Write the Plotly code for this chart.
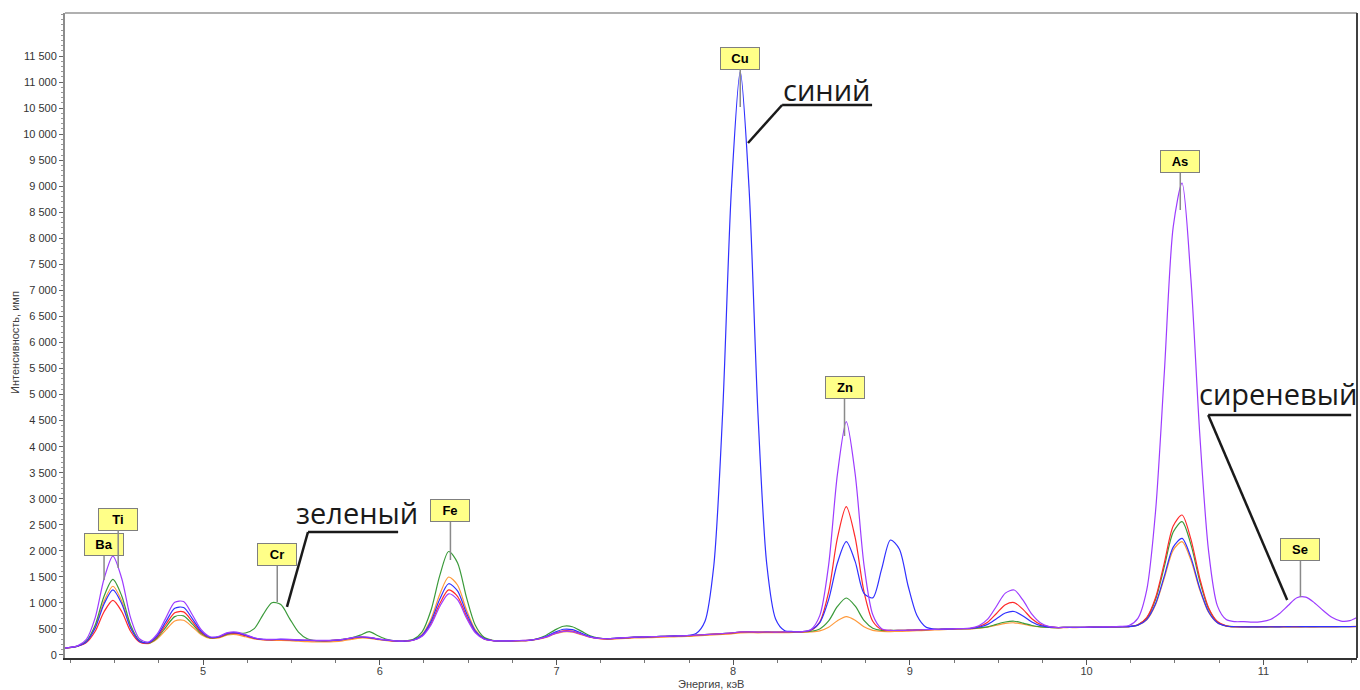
import plotly.graph_objects as go

# ---------------- data ----------------
energy = [
    4.19, 4.24, 4.29, 4.34, 4.39, 4.44, 4.49, 4.54, 4.59, 4.64,
    4.69, 4.74, 4.79, 4.84, 4.89, 4.94, 4.99, 5.04, 5.09, 5.14,
    5.19, 5.24, 5.29, 5.34, 5.39, 5.44, 5.49, 5.54, 5.59, 5.64,
    5.69, 5.74, 5.79, 5.84, 5.89, 5.94, 5.99, 6.04, 6.09, 6.14,
    6.19, 6.24, 6.29, 6.34, 6.39, 6.44, 6.49, 6.54, 6.59, 6.64,
    6.69, 6.74, 6.79, 6.84, 6.89, 6.94, 6.99, 7.04, 7.09, 7.14,
    7.19, 7.24, 7.29, 7.34, 7.39, 7.44, 7.49, 7.54, 7.59, 7.64,
    7.69, 7.74, 7.79, 7.84, 7.89, 7.94, 7.99, 8.04, 8.09, 8.14,
    8.19, 8.24, 8.29, 8.34, 8.39, 8.44, 8.49, 8.54, 8.59, 8.64,
    8.69, 8.74, 8.79, 8.84, 8.89, 8.94, 8.99, 9.04, 9.09, 9.14,
    9.19, 9.24, 9.29, 9.34, 9.39, 9.44, 9.49, 9.54, 9.59, 9.64,
    9.69, 9.74, 9.79, 9.84, 9.89, 9.94, 9.99, 10.04, 10.09, 10.14,
    10.19, 10.24, 10.29, 10.34, 10.39, 10.44, 10.49, 10.54, 10.59, 10.64,
    10.69, 10.74, 10.79, 10.84, 10.89, 10.94, 10.99, 11.04, 11.09, 11.14,
    11.19, 11.24, 11.29, 11.34, 11.39, 11.44, 11.49, 11.54,
]

purple = [
    130, 142, 175, 298, 716, 1464, 1900, 1469, 716, 312,
    249, 399, 713, 1011, 1026, 768, 484, 350, 360, 430,
    440, 390, 330, 300, 300, 305, 300, 290, 285, 280,
    280, 285, 300, 330, 350, 340, 310, 290, 272, 268,
    283, 359, 578, 932, 1175, 1061, 716, 430, 307, 275,
    272, 270, 278, 282, 302, 342, 409, 455, 449, 397,
    343, 318, 312, 322, 333, 342, 348, 352, 356, 362,
    366, 372, 382, 392, 402, 412, 425, 442, 445, 440,
    442, 440, 442, 446, 447, 490, 756, 1726, 3473, 4480,
    3483, 1736, 771, 505, 472, 472, 476, 482, 486, 492,
    497, 502, 507, 515, 561, 688, 936, 1188, 1247, 1052,
    783, 613, 545, 528, 532, 532, 533, 537, 538, 540,
    548, 566, 703, 1244, 2754, 5439, 8219, 9060, 7224, 4255,
    1999, 943, 680, 640, 640, 630, 640, 680, 790, 950,
    1100, 1110, 1000, 850, 720, 650, 660, 740,
]

blue = [
    128, 140, 169, 252, 517, 980, 1250, 985, 517, 265,
    235, 369, 640, 897, 912, 695, 454, 340, 350, 420,
    425, 380, 325, 300, 295, 300, 295, 285, 280, 275,
    275, 280, 295, 325, 345, 335, 305, 285, 270, 265,
    287, 379, 645, 1074, 1368, 1230, 811, 464, 314, 277,
    270, 272, 276, 281, 306, 355, 436, 494, 486, 421,
    353, 321, 312, 322, 332, 342, 346, 352, 357, 362,
    368, 374, 412, 643, 1704, 4623, 8943, 11200, 8953, 4648,
    1744, 693, 472, 450, 448, 479, 622, 1064, 1771, 2176,
    1797, 1184, 1097, 1648, 2207, 2036, 1325, 757, 538, 497,
    496, 501, 506, 508, 532, 587, 697, 806, 835, 750,
    634, 563, 534, 526, 531, 530, 532, 535, 536, 537,
    541, 545, 573, 680, 982, 1518, 2072, 2240, 1874, 1281,
    831, 620, 556, 542, 540, 541, 540, 542, 541, 543,
    542, 544, 543, 545, 544, 546, 545, 547,
]

red = [
    132, 141, 168, 238, 456, 831, 1050, 836, 456, 250,
    228, 347, 585, 812, 827, 640, 432, 335, 345, 410,
    415, 370, 320, 295, 290, 295, 290, 285, 280, 275,
    270, 280, 295, 320, 340, 335, 305, 285, 268, 266,
    285, 367, 604, 987, 1249, 1126, 752, 443, 310, 276,
    268, 271, 274, 279, 303, 345, 416, 465, 458, 403,
    345, 318, 308, 318, 329, 338, 344, 349, 354, 359,
    364, 369, 379, 389, 399, 409, 420, 440, 442, 438,
    441, 439, 441, 444, 445, 474, 632, 1209, 2247, 2848,
    2257, 1219, 647, 489, 471, 471, 476, 481, 486, 491,
    496, 501, 506, 507, 544, 629, 797, 965, 1007, 876,
    696, 584, 538, 527, 531, 531, 532, 536, 536, 538,
    542, 546, 581, 717, 1098, 1775, 2476, 2688, 2225, 1477,
    908, 642, 560, 543, 541, 542, 541, 543, 542, 544,
    543, 545, 544, 546, 545, 547, 546, 548,
]

green = [
    131, 139, 171, 266, 578, 1129, 1450, 1134, 578, 277,
    226, 327, 537, 736, 751, 592, 412, 330, 340, 400,
    414, 422, 506, 774, 1004, 968, 699, 440, 311, 276,
    270, 280, 300, 330, 380, 450, 370, 300, 270, 269,
    300, 444, 858, 1528, 1987, 1772, 1115, 574, 339, 280,
    271, 272, 277, 282, 312, 375, 477, 552, 542, 458,
    369, 326, 311, 321, 331, 341, 347, 351, 356, 361,
    366, 371, 381, 391, 401, 411, 421, 441, 443, 439,
    442, 440, 442, 445, 446, 456, 499, 653, 931, 1094,
    941, 663, 514, 471, 472, 471, 477, 482, 487, 492,
    497, 502, 507, 506, 519, 541, 589, 633, 648, 613,
    566, 540, 529, 526, 532, 531, 531, 536, 537, 536,
    541, 546, 579, 707, 1065, 1701, 2360, 2560, 2124, 1421,
    886, 636, 559, 543, 542, 541, 542, 541, 543, 542,
    544, 543, 545, 544, 546, 545, 547, 546,
]

orange = [
    129, 138, 170, 257, 538, 1032, 1320, 1037, 538, 267,
    219, 305, 482, 651, 666, 537, 390, 320, 330, 385,
    390, 350, 310, 290, 280, 280, 275, 265, 255, 250,
    250, 255, 270, 300, 325, 320, 295, 275, 262, 260,
    290, 393, 689, 1168, 1497, 1343, 874, 487, 320, 277,
    265, 266, 270, 275, 300, 338, 402, 445, 440, 391,
    340, 315, 302, 310, 318, 326, 330, 335, 340, 345,
    350, 355, 365, 375, 385, 395, 405, 425, 428, 425,
    428, 427, 428, 432, 435, 442, 462, 532, 658, 736,
    668, 542, 472, 452, 450, 452, 458, 465, 472, 480,
    486, 492, 498, 500, 517, 534, 572, 606, 618, 592,
    556, 537, 528, 522, 527, 527, 528, 532, 533, 534,
    538, 545, 571, 675, 965, 1480, 2014, 2176, 1823, 1253,
    820, 617, 555, 540, 538, 539, 538, 540, 539, 541,
    540, 542, 541, 543, 542, 544, 543, 545,
]

# element labels: name, energy (keV), intensity where the marker line ends
el_names = ["Ba", "Ti", "Cr", "Fe", "Cu", "Zn", "As", "Se"]
el_energy = [4.44, 4.52, 5.42, 6.40, 8.04, 8.63, 10.53, 11.21]
el_tip = [1440, 1670, 1018, 1824, 10522, 4205, 8545, 1114]
el_offset_px = [-35, -49, -47, -49, -49, -48, -48, -47]

# colour callouts: word, text centre (E, I), underline start/end, pointer end
call_words = ["синий", "зеленый", "сиреневый"]
call_text_xy = [(8.531, 10849), (5.872, 2727), (11.081, 5012)]
call_line_start = [(8.277, 10561), (5.594, 2362), (10.688, 4608)]
call_line_end = [(8.786, 10561), (6.104, 2362), (11.497, 4608)]
call_pointer = [(8.084, 9831), (5.475, 922), (11.135, 1056)]

y_ticks = list(range(0, 12000, 500))
x_ticks = [5, 6, 7, 8, 9, 10, 11]

series = [
    ("orange", orange, "#ff9a3c"),
    ("green", green, "#3a9a3a"),
    ("red", red, "#ff2a2a"),
    ("blue", blue, "#3030ff"),
    ("purple", purple, "#9d3cff"),
]
for name, vals, _ in series:
    assert len(vals) == len(energy), (name, len(vals), len(energy))

# ---------------- figure ----------------
fig = go.Figure()
for name, vals, col in series:
    fig.add_trace(go.Scatter(
        x=energy, y=vals, mode="lines", name=name,
        line=dict(color=col, width=1.2, shape="spline", smoothing=0.8),
        hoverinfo="skip",
    ))

annotations = []
for n, e, t, off in zip(el_names, el_energy, el_tip, el_offset_px):
    annotations.append(dict(
        x=e, y=t, xref="x", yref="y",
        text=f"<b>{n}</b>", showarrow=True, arrowhead=0, arrowwidth=1.5,
        arrowcolor="#8a8a8a", ax=0, ay=off, standoff=0,
        font=dict(family="Liberation Sans", size=13, color="#000000"),
        bgcolor="#ffff88", bordercolor="#7f7f7f", borderwidth=1, borderpad=3,
        width=32, height=15,
    ))

shapes = []
for w, (tx, ty), (sx, sy), (ex, ey), (px, py) in zip(
        call_words, call_text_xy, call_line_start, call_line_end, call_pointer):
    annotations.append(dict(
        x=tx, y=ty, xref="x", yref="y", text=w, showarrow=False,
        xanchor="center", yanchor="middle",
        font=dict(family="Open Sans", size=29, color="#1a1a1a"),
    ))
    shapes.append(dict(type="line", xref="x", yref="y", x0=sx, y0=sy, x1=ex, y1=ey,
                       line=dict(color="#1a1a1a", width=2.5)))
    shapes.append(dict(type="line", xref="x", yref="y", x0=sx, y0=sy, x1=px, y1=py,
                       line=dict(color="#1a1a1a", width=2.5)))

# frame: top and right borders
shapes.append(dict(type="line", xref="paper", yref="paper", x0=0, x1=1, y0=1, y1=1,
                   line=dict(color="#b0b0b0", width=2)))
shapes.append(dict(type="line", xref="paper", yref="paper", x0=1, x1=1, y0=0, y1=1,
                   line=dict(color="#404040", width=2)))

# axis titles
annotations.append(dict(x=0.5, y=-0.041, xref="paper", yref="paper",
                        text="Энергия, кэВ", showarrow=False,
                        xanchor="center", yanchor="middle",
                        font=dict(family="Liberation Sans", size=11, color="#404040")))
annotations.append(dict(x=-0.0387, y=0.49, xref="paper", yref="paper",
                        text="Интенсивность, имп", showarrow=False, textangle=-90,
                        xanchor="center", yanchor="middle",
                        font=dict(family="Liberation Sans", size=11, color="#404040")))

fig.update_layout(
    width=1360, height=690,
    margin=dict(l=65, r=3, t=13, b=32),
    paper_bgcolor="white", plot_bgcolor="white",
    showlegend=False,
    hovermode=False,
    annotations=annotations,
    shapes=shapes,
    xaxis=dict(
        range=[4.219, 11.53], tickvals=x_ticks, ticktext=[str(v) for v in x_ticks],
        ticks="outside", ticklen=5, tickcolor="#555555", tickwidth=1,
        ticklabelstandoff=-3,
        showline=True, linecolor="#333333", linewidth=2,
        showgrid=False, zeroline=False,
        tickfont=dict(family="Liberation Sans", size=11, color="#404040"),
        minor=dict(dtick=0.25, tick0=5, ticks="outside", ticklen=3,
                   tickcolor="#777777", showgrid=False),
    ),
    yaxis=dict(
        range=[-58, 12327], tickvals=y_ticks,
        ticktext=[f"{v:,}".replace(",", " ") for v in y_ticks],
        ticks="outside", ticklen=4, tickcolor="#666666", tickwidth=1,
        showline=True, linecolor="#8c8c8c", linewidth=2,
        showgrid=False, zeroline=False,
        tickfont=dict(family="Liberation Sans", size=11, color="#333333"),
        minor=dict(dtick=100, tick0=0, ticks="outside", ticklen=2,
                   tickcolor="#999999", showgrid=False),
    ),
)

fig.write_html(
    "out.html",
    config={"displayModeBar": False},
    post_script="document.body.style.margin='0';document.body.style.overflow='hidden';",
)
